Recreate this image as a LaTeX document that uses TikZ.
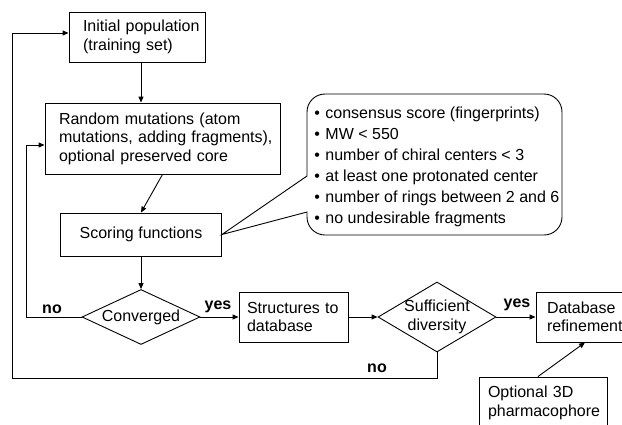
\documentclass[tikz,border=0pt]{standalone}
\usepackage{fontspec}
\setmainfont{Liberation Sans}
\usetikzlibrary{arrows.meta,shapes.geometric}
\begin{document}
\begin{tikzpicture}[x=1pt,y=-1pt,
  font=\fontsize{16}{18.5}\selectfont,
  line width=0.9pt,
  arr/.style={-{Triangle[length=6pt,width=5pt]}},
  box/.style={draw, rectangle, inner xsep=0pt, inner ysep=0pt, align=left},
  dia/.style={draw, diamond, inner sep=0pt, minimum width=118pt},
  lbl/.style={font=\fontsize{16}{18.5}\selectfont\bfseries, inner sep=0pt},
  txt/.style={inner sep=0pt, align=center},
]
\useasboundingbox (0,0) rectangle (622,424);

% boxes
\node[box, minimum width=136pt, minimum height=50pt, text width=108pt] (init) at (137,37) {\mbox{Initial population}\\\mbox{(training set)}};
\node[box, minimum width=235pt, minimum height=71pt, text width=207pt] (rand) at (162.5,138.5) {\mbox{Random mutations (atom}\\\mbox{mutations, adding fragments),}\\\mbox{optional preserved core}};
\node[box, align=center, minimum width=161pt, minimum height=43pt] (score) at (141,234.5) {Scoring functions};
\node[dia, minimum height=55pt] (conv) at (141,317) {};
\node[txt] (convtxt) at (conv) {Converged};
\node[box, minimum width=109pt, minimum height=50pt, text width=93pt] (struct) at (293.5,317) {\mbox{Structures to}\\\mbox{database}};
\node[dia, minimum height=70pt] (div) at (437,317) {};
\node[txt, font=\fontsize{16}{19}\selectfont] (divtxt) at (div) {Sufficient\\diversity};
\node[box, minimum width=92pt, minimum height=50pt, text width=70pt] (db) at (582,317) {\mbox{Database}\\\mbox{refinement}};
\node[box, minimum width=128pt, minimum height=52pt, text width=110pt] (opt) at (543,403) {\mbox{Optional 3D}\\\mbox{pharmacophore}};

% callout
\node[inner sep=0pt, align=left, anchor=west, font=\fontsize{16}{21}\selectfont] (crit) at (314,167) {%
\makebox[11pt][l]{\textbullet}consensus score (fingerprints)\\
\makebox[11pt][l]{\textbullet}MW < 550\\
\makebox[11pt][l]{\textbullet}number of chiral centers < 3\\
\makebox[11pt][l]{\textbullet}at least one protonated center\\
\makebox[11pt][l]{\textbullet}number of rings between 2 and 6\\
\makebox[11pt][l]{\textbullet}no undesirable fragments};
\draw (score.east) -- (307,176) [rounded corners=18pt] -- (307,94) -- (562,94) -- (562,235) -- (307,235) [sharp corners] -- (307,212) -- cycle;

% connectors
\draw[arr] (init.south -| conv.north) -- (rand.north -| conv.north);
\draw[arr] (rand.south) -- (score.north);
\draw[arr] (score.south) -- (conv.north);
\draw[arr] (conv.east) -- (struct.west);
\draw[arr] (conv.west) -- ++(-55,0) |- ([yshift=-6.5pt]rand.west);
\draw[arr] (struct.east) -- (div.west);
\draw[arr] (div.east) -- (db.west);
\draw[arr] (div.south) |- (12,378) |- ([yshift=4pt]init.west);
\draw[arr] ([xshift=-5pt]opt.north) -- ([xshift=3pt]db.south);

% labels
\node[lbl] (no1) at (52,309) {no};
\node[lbl] (yes1) at (218,306.5) {yes};
\node[lbl] (yes2) at (517,305) {yes};
\node[lbl] (no2) at (377,368) {no};
\end{tikzpicture}
\end{document}
